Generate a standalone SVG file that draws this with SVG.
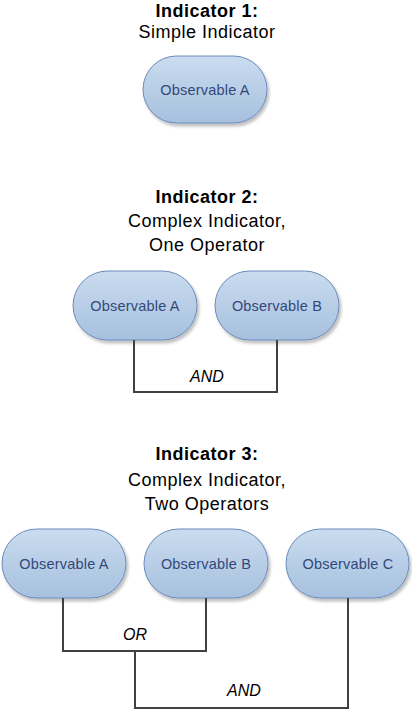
<svg xmlns="http://www.w3.org/2000/svg" width="412" height="710" viewBox="0 0 412 710">
<style>
.title{font-family:"Liberation Sans",Arial,sans-serif;font-size:18px;font-weight:bold;fill:#000;text-anchor:middle;letter-spacing:0.5px}
.sub{font-family:"Liberation Sans",Arial,sans-serif;font-size:18px;fill:#000;text-anchor:middle;letter-spacing:0.5px}
.node rect{fill:url(#g);stroke:#6a8abb;stroke-width:1;filter:url(#sh)}
.node text{font-family:"Liberation Sans",Arial,sans-serif;font-size:14.5px;fill:#33487a;text-anchor:middle;letter-spacing:0.2px}
.op{font-family:"Liberation Sans",Arial,sans-serif;font-size:16px;font-style:italic;fill:#000;text-anchor:middle}
.conn path{fill:none;stroke:#404040;stroke-width:2}
</style>
<defs>
<linearGradient id="g" x1="0" y1="0" x2="0" y2="1">
<stop offset="0" stop-color="#cadcef"/>
<stop offset="1" stop-color="#a6c0de"/>
</linearGradient>
<filter id="sh" x="-10%" y="-10%" width="130%" height="140%">
<feGaussianBlur in="SourceAlpha" stdDeviation="1.5"/>
<feOffset dx="2" dy="3" result="b"/>
<feComponentTransfer><feFuncA type="linear" slope="0.25"/></feComponentTransfer>
<feMerge><feMergeNode/><feMergeNode in="SourceGraphic"/></feMerge>
</filter>
</defs>
<rect width="412" height="710" fill="#fff"/>

<g id="title1">
<text class="title" x="207" y="17">Indicator 1:</text>
<text class="sub" x="207" y="38">Simple Indicator</text>
</g>
<g id="n1A" class="node">
<rect x="143" y="56" width="124" height="67" rx="33.5"/>
<text x="205" y="95">Observable A</text>
</g>

<g id="title2">
<text class="title" x="207" y="203">Indicator 2:</text>
<text class="sub" x="207" y="227">Complex Indicator,</text>
<text class="sub" x="207" y="251">One Operator</text>
</g>
<g id="n2A" class="node">
<rect x="73" y="271" width="124" height="69" rx="34.5"/>
<text x="135" y="311">Observable A</text>
</g>
<g id="n2B" class="node">
<rect x="215" y="271" width="124" height="69" rx="34.5"/>
<text x="277" y="311">Observable B</text>
</g>

<g id="title3">
<text class="title" x="207" y="460">Indicator 3:</text>
<text class="sub" x="207" y="486">Complex Indicator,</text>
<text class="sub" x="207" y="510">Two Operators</text>
</g>
<g id="n3A" class="node">
<rect x="2" y="529" width="124" height="69" rx="34.5"/>
<text x="64" y="569">Observable A</text>
</g>
<g id="n3B" class="node">
<rect x="144" y="529" width="124" height="69" rx="34.5"/>
<text x="206" y="569">Observable B</text>
</g>
<g id="n3C" class="node">
<rect x="286" y="529" width="123" height="69" rx="34.5"/>
<text x="348" y="569">Observable C</text>
</g>

<g id="connectors" class="conn">
<path d="M134 340 V392 H277 V340"/>
<path d="M63 598 V651 H206 V598"/>
<path d="M135 651 V708 H348 V598"/>
</g>
<g id="operators">
<text class="op" x="207" y="382">AND</text>
<text class="op" x="135" y="640">OR</text>
<text class="op" x="244" y="696">AND</text>
</g>
</svg>
